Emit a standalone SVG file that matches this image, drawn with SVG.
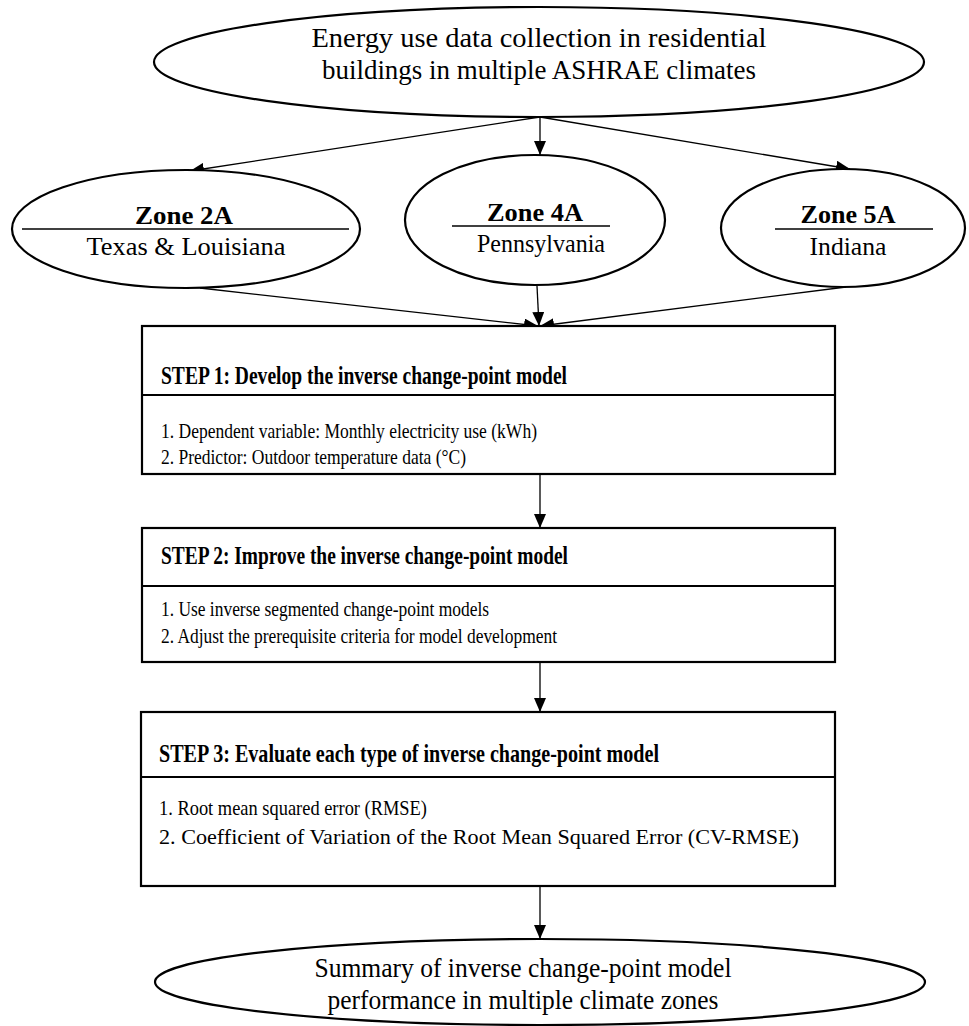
<svg xmlns="http://www.w3.org/2000/svg" width="969" height="1026" viewBox="0 0 969 1026">
  <style>
    .shape { fill: #ffffff; stroke: #000000; stroke-width: 2.2; }
    .rule { stroke: #000000; stroke-width: 1.5; }
    .bar { stroke: #000000; stroke-width: 2.2; }
    .edge { stroke: #000000; stroke-width: 1.3; fill: none; marker-end: url(#arrow); }
    text { font-family: "Liberation Serif", "Times New Roman", serif; fill: #000000; }
    .big { font-size: 28px; text-anchor: middle; }
    .zone { font-size: 25px; font-weight: bold; text-anchor: middle; }
    .place { font-size: 26px; text-anchor: middle; }
    .head { font-size: 25px; font-weight: bold; }
    .item { font-size: 22px; }
  </style>
  <defs>
    <marker id="arrow" markerUnits="userSpaceOnUse" markerWidth="14" markerHeight="12" refX="14" refY="6" orient="auto">
      <path d="M0,0 L14,6 L0,12 Z" fill="#000000"/>
    </marker>
  </defs>
  <rect width="969" height="1026" fill="#ffffff"/>

  <!-- connectors -->
  <g id="connectors">
    <line class="edge" x1="540" y1="117" x2="190" y2="171"/>
    <line class="edge" x1="540" y1="117" x2="540" y2="155"/>
    <line class="edge" x1="540" y1="117" x2="850" y2="169"/>
    <line class="edge" x1="200" y1="288" x2="538" y2="326"/>
    <line class="edge" x1="537" y1="286" x2="539" y2="326"/>
    <line class="edge" x1="846" y1="287" x2="540" y2="326"/>
    <line class="edge" x1="540" y1="474" x2="540" y2="528"/>
    <line class="edge" x1="540" y1="662" x2="540" y2="712"/>
    <line class="edge" x1="540" y1="886" x2="540" y2="939"/>
  </g>

  <!-- source data -->
  <g id="node-data">
    <ellipse class="shape" cx="539" cy="62" rx="385" ry="55"/>
    <text class="big" x="539" y="47" textLength="455" lengthAdjust="spacingAndGlyphs">Energy use data collection in residential</text>
    <text class="big" x="539" y="79" textLength="434" lengthAdjust="spacingAndGlyphs">buildings in multiple ASHRAE climates</text>
  </g>

  <!-- climate zones -->
  <g id="node-zone2a">
    <ellipse class="shape" cx="186" cy="229" rx="174" ry="59"/>
    <text class="zone" x="184" y="224" textLength="98" lengthAdjust="spacingAndGlyphs">Zone 2A</text>
    <line class="rule" x1="22" y1="229" x2="349" y2="229"/>
    <text class="place" x="186" y="255" textLength="199" lengthAdjust="spacingAndGlyphs">Texas &amp; Louisiana</text>
  </g>
  <g id="node-zone4a">
    <ellipse class="shape" cx="535" cy="220" rx="130" ry="65"/>
    <text class="zone" x="535" y="221" textLength="96" lengthAdjust="spacingAndGlyphs">Zone 4A</text>
    <line class="rule" x1="452" y1="226" x2="610" y2="226"/>
    <text class="place" x="541" y="252" textLength="128" lengthAdjust="spacingAndGlyphs">Pennsylvania</text>
  </g>
  <g id="node-zone5a">
    <ellipse class="shape" cx="843" cy="228" rx="122" ry="59"/>
    <text class="zone" x="848" y="223" textLength="95" lengthAdjust="spacingAndGlyphs">Zone 5A</text>
    <line class="rule" x1="775" y1="229" x2="933" y2="229"/>
    <text class="place" x="848" y="255" textLength="77" lengthAdjust="spacingAndGlyphs">Indiana</text>
  </g>

  <!-- step 1 -->
  <g id="node-step1">
    <rect class="shape" x="142" y="326" width="693" height="148"/>
    <line class="bar" x1="142" y1="395" x2="835" y2="395"/>
    <text class="head" x="161" y="384" textLength="406" lengthAdjust="spacingAndGlyphs">STEP 1: Develop the inverse change-point model</text>
    <text class="item" x="161" y="438" textLength="376" lengthAdjust="spacingAndGlyphs">1. Dependent variable: Monthly electricity use (kWh)</text>
    <text class="item" x="161" y="464" textLength="305" lengthAdjust="spacingAndGlyphs">2. Predictor: Outdoor temperature data (°C)</text>
  </g>

  <!-- step 2 -->
  <g id="node-step2">
    <rect class="shape" x="142" y="528" width="693" height="134"/>
    <line class="bar" x1="142" y1="586" x2="835" y2="586"/>
    <text class="head" x="161" y="564" textLength="407" lengthAdjust="spacingAndGlyphs">STEP 2: Improve the inverse change-point model</text>
    <text class="item" x="161" y="616" textLength="328" lengthAdjust="spacingAndGlyphs">1. Use inverse segmented change-point models</text>
    <text class="item" x="161" y="643" textLength="396" lengthAdjust="spacingAndGlyphs">2. Adjust the prerequisite criteria for model development</text>
  </g>

  <!-- step 3 -->
  <g id="node-step3">
    <rect class="shape" x="141" y="712" width="694" height="174"/>
    <line class="bar" x1="141" y1="777" x2="835" y2="777"/>
    <text class="head" x="159" y="762" textLength="500" lengthAdjust="spacingAndGlyphs">STEP 3: Evaluate each type of inverse change-point model</text>
    <text class="item" x="159" y="815" textLength="268" lengthAdjust="spacingAndGlyphs">1. Root mean squared error (RMSE)</text>
    <text class="item" x="159" y="844" textLength="640" lengthAdjust="spacingAndGlyphs">2. Coefficient of Variation of the Root Mean Squared Error (CV-RMSE)</text>
  </g>

  <!-- summary -->
  <g id="node-summary">
    <ellipse class="shape" cx="540" cy="982" rx="385" ry="43"/>
    <text class="big" x="523" y="977" textLength="417" lengthAdjust="spacingAndGlyphs">Summary of inverse change-point model</text>
    <text class="big" x="523" y="1009" textLength="391" lengthAdjust="spacingAndGlyphs">performance in multiple climate zones</text>
  </g>
</svg>
